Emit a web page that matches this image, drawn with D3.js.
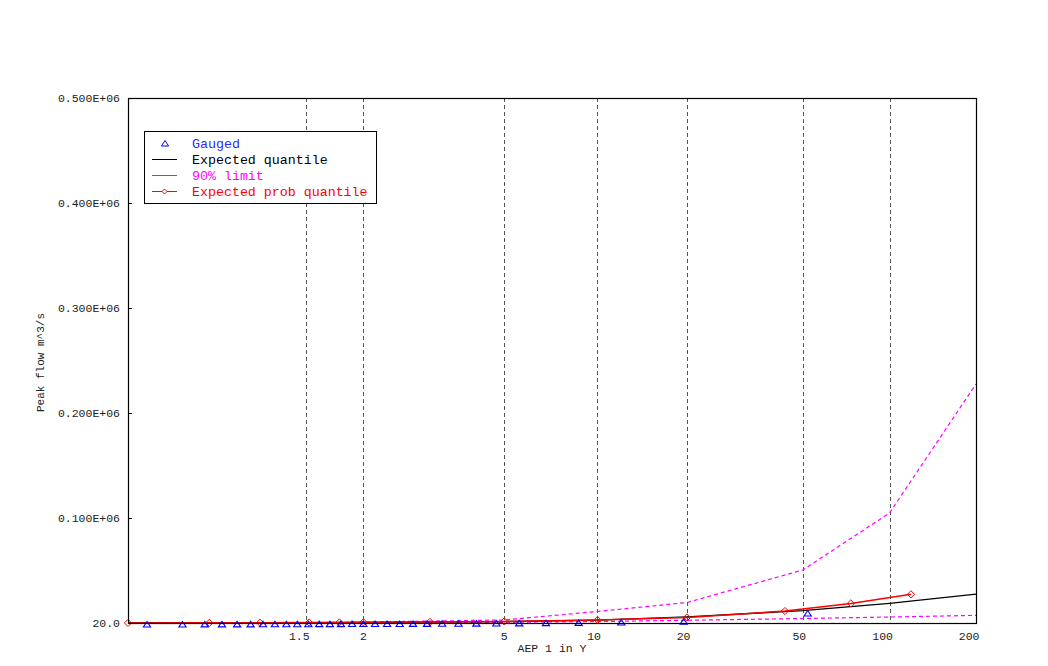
<!DOCTYPE html>
<html>
  <head>
    <title>Flood frequency: Peak flow vs AEP</title>
    <meta charset="UTF-8">
    <style>
      body { margin: 0; background: #fff; }
      svg { display: block; }
      text { font-family: "Liberation Mono", "DejaVu Sans Mono", monospace; }
    </style>
  </head>
  <body>

    <svg></svg>

    <script src="https://cdnjs.cloudflare.com/ajax/libs/d3/7.8.5/d3.min.js"></script>
    <script>

/* DATA (AEP 1 in Y, peak flow m^3/s) */

var xTicks = [1.5, 2, 5, 10, 20, 50, 100, 200];
var yTicks = [20, 100000, 200000, 300000, 400000, 500000];

// gauged annual maxima, plotted at their return periods
var gaugedT = [52.0, 19.5, 12.0, 8.667, 6.783, 5.571, 4.727, 4.105, 3.628, 3.25,
               2.943, 2.690, 2.476, 2.294, 2.137, 2.0, 1.880, 1.773, 1.677, 1.592,
               1.515, 1.444, 1.381, 1.322, 1.268, 1.219, 1.173, 1.130, 1.091, 1.054, 1.0196];
var gaugedQ = [10500, 2700, 1900, 1600, 1300, 1100, 950, 850, 780, 720,
               660, 610, 560, 540, 500, 470, 430, 400, 370, 340,
               310, 280, 250, 220, 200, 180, 150, 120, 100, 80, 50];

// expected quantile and 90% limits
var curveT   = [1.0101, 1.5, 2, 5, 10, 20, 50, 100, 200];
var expQ     = [20, 400, 600, 1400, 2800, 5800, 11800, 18800, 27600];
var upperQ   = [20, 300, 900, 2900, 11000, 19500, 50500, 104800, 227600];
var lowerQ   = [20, 150, 300, 700, 1400, 2600, 4300, 5700, 7300];

// expected probability quantile
var probT = [1.0101, 1.1005, 1.2555, 1.52, 1.758, 2.0, 3.0, 5.0, 10.0, 20.0, 43.4, 73.4, 118.7];
var probQ = [50, 150, 300, 450, 550, 650, 1000, 1500, 2900, 5300, 11400, 18700, 27300];

var legendItems = [
  {"label": "Gauged", "color": "#0000ff", "kind": "triangle"},
  {"label": "Expected quantile", "color": "#000000", "kind": "line"},
  {"label": "90% limit", "color": "#ff00ff", "kind": "line"},
  {"label": "Expected prob quantile", "color": "#ff0000", "kind": "diamond"}
];

/* HELPERS */

// Gumbel reduced variate for a return period T
function gum(T) {
  return -Math.log(-Math.log(1 - 1 / T));
}

function yFormat(v) {
  if (v < 1000) return v.toFixed(1);
  var e = Math.floor(Math.log10(v)) + 1;
  return (v / Math.pow(10, e)).toFixed(3) + "E+" + (e < 10 ? "0" + e : e);
}

function zip(ts, qs) {
  return ts.map(function(t, i) { return {"t": t, "q": qs[i]}; });
}

var config = {
  "width": 1048,
  "height": 666,
  "margin": {"top": 98, "right": 72, "bottom": 43, "left": 128}
};

var svg = d3.select("svg")
  .attr("width", config.width)
  .attr("height", config.height);

var m = config.margin,
    width = config.width - m.left - m.right,
    height = config.height - m.top - m.bottom;

var x = d3.scaleLinear()
  .domain([gum(1 / 0.99), gum(200)])
  .range([m.left, m.left + width]);

var y = d3.scaleLinear()
  .domain([20, 500000])
  .range([m.top + height, m.top]);

var line = d3.line()
  .x(function(d) { return x(gum(d.t)); })
  .y(function(d) { return y(d.q); });

// vertical grid lines
svg.append("g")
  .selectAll("line")
  .data(xTicks.slice(0, -1))
  .enter().append("line")
    .attr("x1", function(d) { return Math.round(x(gum(d))) + 0.5; })
    .attr("x2", function(d) { return Math.round(x(gum(d))) + 0.5; })
    .attr("y1", m.top)
    .attr("y2", m.top + height)
    .attr("stroke", "#555")
    .attr("stroke-dasharray", "4,3");

// x tick labels
svg.append("g")
  .selectAll("text")
  .data(xTicks)
  .enter().append("text")
    .attr("x", function(d) { return x(gum(d)) + 3.5; })
    .attr("y", m.top + height + 17)
    .attr("text-anchor", "end")
    .attr("font-size", 11.5)
    .attr("fill", "#222")
    .text(function(d) { return d; });

// y tick labels + small inward ticks
var yAxis = svg.append("g");
yAxis.selectAll("text")
  .data(yTicks)
  .enter().append("text")
    .attr("x", m.left - 8)
    .attr("y", function(d) { return y(d); })
    .attr("dy", "0.35em")
    .attr("text-anchor", "end")
    .attr("font-size", 11.5)
    .attr("fill", "#222")
    .text(yFormat);
yAxis.selectAll("line")
  .data(yTicks)
  .enter().append("line")
    .attr("x1", m.left)
    .attr("x2", m.left + 4)
    .attr("y1", function(d) { return Math.round(y(d)) + 0.5; })
    .attr("y2", function(d) { return Math.round(y(d)) + 0.5; })
    .attr("stroke", "#000");

// axis titles
svg.append("text")
  .attr("x", m.left + width / 2)
  .attr("y", m.top + height + 29)
  .attr("text-anchor", "middle")
  .attr("font-size", 11.5)
  .attr("fill", "#222")
  .text("AEP 1 in Y");

svg.append("text")
  .attr("transform", "translate(44," + (m.top + height / 2 + 2) + ") rotate(-90)")
  .attr("text-anchor", "middle")
  .attr("font-size", 11)
  .attr("fill", "#222")
  .text("Peak flow m^3/s");

// curves
svg.append("path")
  .datum(zip(curveT, upperQ))
  .attr("d", line)
  .attr("fill", "none")
  .attr("stroke", "#ff00ff")
  .attr("stroke-width", 1.2)
  .attr("stroke-dasharray", "4,3");

svg.append("path")
  .datum(zip(curveT, lowerQ))
  .attr("d", line)
  .attr("fill", "none")
  .attr("stroke", "#ff00ff")
  .attr("stroke-width", 1.2)
  .attr("stroke-dasharray", "4,3");

svg.append("path")
  .datum(zip(curveT, expQ))
  .attr("d", line)
  .attr("fill", "none")
  .attr("stroke", "#000")
  .attr("stroke-width", 1.3);

svg.append("path")
  .datum(zip(probT, probQ))
  .attr("d", line)
  .attr("fill", "none")
  .attr("stroke", "#ff0000")
  .attr("stroke-width", 1.5);

// markers
var tri = "M0,-3L3.6,2.5L-3.6,2.5Z";
var dia = "M0,-3.6L3.6,0L0,3.6L-3.6,0Z";

svg.append("g")
  .selectAll("path")
  .data(zip(probT, probQ))
  .enter().append("path")
    .attr("transform", function(d) { return "translate(" + x(gum(d.t)) + "," + y(d.q) + ")"; })
    .attr("d", dia)
    .attr("fill", "none")
    .attr("stroke", "#ff0000");

svg.append("g")
  .selectAll("path")
  .data(zip(gaugedT, gaugedQ))
  .enter().append("path")
    .attr("transform", function(d) { return "translate(" + x(gum(d.t)) + "," + (y(d.q) + 1.5) + ")"; })
    .attr("d", tri)
    .attr("fill", "none")
    .attr("stroke", "#0000ff")
    .attr("stroke-width", 1.1);

// plot frame
svg.append("rect")
  .attr("x", m.left + 0.5)
  .attr("y", m.top + 0.5)
  .attr("width", width)
  .attr("height", height)
  .attr("fill", "none")
  .attr("stroke", "#000")
  .attr("stroke-width", 1.2);

// legend
var lg = svg.append("g").attr("transform", "translate(144,131)");
lg.append("rect")
  .attr("x", 0.5).attr("y", 0.5)
  .attr("width", 232).attr("height", 72)
  .attr("fill", "#fff")
  .attr("stroke", "#000");

var item = lg.selectAll("g")
  .data(legendItems)
  .enter().append("g")
    .attr("transform", function(d, i) { return "translate(0," + (12 + i * 16) + ")"; });

item.filter(function(d) { return d.kind != "triangle"; })
  .append("line")
    .attr("x1", 8).attr("x2", 33)
    .attr("y1", 0.5).attr("y2", 0.5)
    .attr("stroke", function(d) { return d.color; });

item.filter(function(d) { return d.kind == "triangle"; })
  .append("path")
    .attr("transform", "translate(21,0.5)")
    .attr("d", tri)
    .attr("fill", "none")
    .attr("stroke", function(d) { return d.color; });

item.filter(function(d) { return d.kind == "diamond"; })
  .append("path")
    .attr("transform", "translate(20.5,0.5)")
    .attr("d", "M0,-2.5L2.5,0L0,2.5L-2.5,0Z")
    .attr("fill", "#fff")
    .attr("stroke", function(d) { return d.color; });

item.append("text")
  .attr("x", 48)
  .attr("y", 0)
  .attr("dy", "0.35em")
  .attr("font-size", 13.3)
  .attr("fill", function(d) { return d.color == "#0000ff" ? "#2a2aff" : d.color; })
  .text(function(d) { return d.label; });

    </script>
  </body>
</html>
